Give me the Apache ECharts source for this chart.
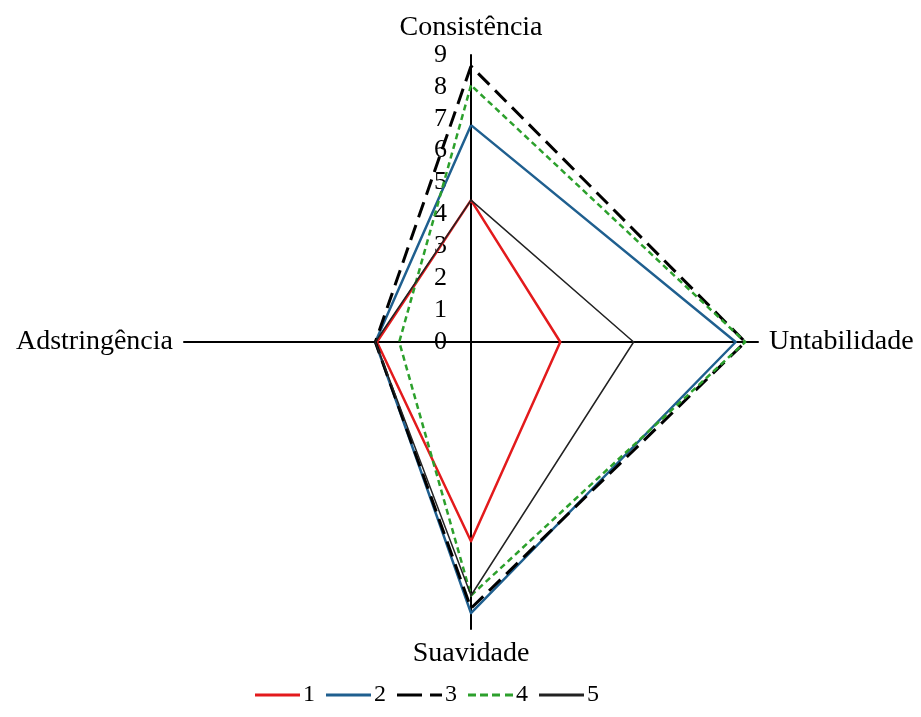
<!DOCTYPE html>
<html><head><meta charset="utf-8">
<script src="https://cdn.jsdelivr.net/npm/echarts@6/dist/echarts.min.js"></script>
<style>html,body{margin:0;padding:0;background:#fff}#c{width:921px;height:717px}</style>
</head><body><div id="c"></div>
<script>
// indicators in counterclockwise order starting at the top
const indicators = ['Consistência', 'Adstringência', 'Suavidade', 'Untabilidade'];
const seriesNames = ['1', '2', '3', '4', '5'];
const s1 = [4.45, 2.95, 6.25, 2.8];
const s2 = [6.8, 3.0, 8.5, 8.3];
const s3 = [8.65, 3.0, 8.35, 8.6];
const s4 = [8.05, 2.25, 7.95, 8.6];
const s5 = [4.45, 3.0, 7.95, 5.1];
const maxVal = 9;

const font = 'Liberation Serif, Times New Roman, serif';
const colors = ['#e31a1c', '#1f5f8f', '#000000', '#2ca02c', '#222222'];
const widths = [2.5, 2.5, 3, 2.5, 1.5];
const types = ['solid', 'solid', [16, 8], [6, 4], 'solid'];
const icons = [
  'path://M0,0h45v3h-45z',
  'path://M0,0h45v3h-45z',
  'path://M0,0h25v3h-25z M33,0h12v3h-12z',
  'path://M0,0h8v3h-8z M12,0h8v3h-8z M24,0h8v3h-8z M37,0h8v3h-8z',
  'path://M0,0h45v3h-45z'
];
const allData = [s1, s2, s3, s4, s5];

const chart = echarts.init(document.getElementById('c'), null, {renderer: 'canvas'});
chart.setOption({
  animation: false,
  legend: {
    left: 250, top: 678,
    itemWidth: 45, itemHeight: 3, itemGap: 11,
    textStyle: {fontFamily: font, fontSize: 24, color: '#000', padding: [0, 0, 0, -2]},
    data: seriesNames.map((n, i) => ({name: n, icon: icons[i]}))
  },
  radar: {
    center: [471, 342],
    radius: 287,
    startAngle: 90,
    shape: 'polygon',
    splitNumber: 9,
    axisName: {color: '#000', fontFamily: font, fontSize: 28},
    nameGap: 11,
    axisLine: {lineStyle: {color: '#000', width: 2}},
    axisTick: {show: false},
    splitLine: {show: false},
    splitArea: {show: false},
    axisLabel: {show: false, color: '#000', fontFamily: font, fontSize: 26, margin: 24},
    indicator: indicators.map((n, i) => i === 0
      ? {name: n, min: 0, max: maxVal, axisLabel: {show: true, fontSize: 26, fontFamily: font, color: '#000', margin: 24}}
      : {name: n, min: 0, max: maxVal})
  },
  series: [{
    type: 'radar',
    symbol: 'none',
    data: allData.map((d, i) => ({
      name: seriesNames[i],
      value: d,
      itemStyle: {color: colors[i]},
      lineStyle: {color: colors[i], width: widths[i], type: types[i]}
    }))
  }]
});
</script></body></html>
